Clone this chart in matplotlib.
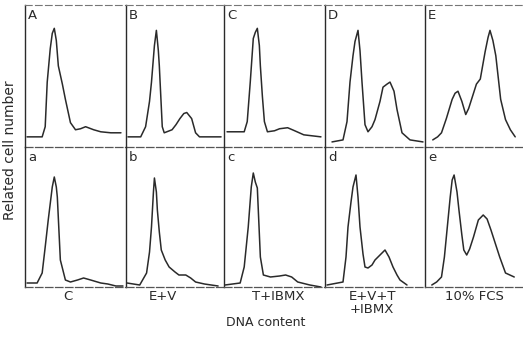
import numpy as np
import matplotlib.pyplot as plt

# DNA histograms, channel (0-100) vs relative cell number
# top row: A-E, bottom row: a-e
A_x = [2, 17, 20, 22, 25, 27, 29, 31, 33, 37, 40, 45, 50, 55, 60, 68, 75, 85, 95]
A_y = [10, 10, 20, 64, 97, 112, 117, 105, 80, 62, 47, 24, 17, 18, 20, 17, 15, 14, 14]
B_x = [2, 15, 20, 24, 26, 29, 31, 33, 34, 37, 39, 47, 51, 55, 59, 62, 67, 71, 75, 97]
B_y = [10, 10, 20, 45, 64, 100, 115, 95, 80, 20, 14, 17, 22, 28, 33, 34, 28, 14, 10, 10]
C_x = [3, 20, 23, 26, 29, 31, 33, 35, 36, 38, 40, 43, 50, 55, 63, 70, 79, 96]
C_y = [15, 15, 25, 64, 107, 113, 117, 100, 80, 50, 25, 15, 16, 18, 19, 16, 12, 10]
D_x = [7, 18, 22, 25, 28, 30, 33, 35, 37, 40, 43, 47, 50, 55, 58, 62, 65, 69, 72, 77, 85, 98]
D_y = [5, 7, 25, 64, 90, 104, 115, 95, 64, 22, 15, 20, 27, 45, 59, 62, 64, 55, 37, 14, 7, 5]
E_x = [8, 13, 17, 22, 28, 31, 34, 38, 42, 45, 48, 53, 57, 62, 65, 67, 70, 73, 78, 83, 88, 93]
E_y = [7, 10, 14, 28, 47, 53, 55, 45, 32, 38, 47, 62, 67, 94, 108, 115, 105, 90, 47, 27, 17, 10]

a_x = [2, 12, 17, 20, 23, 27, 29, 31, 32, 35, 40, 45, 52, 58, 65, 75, 82, 90, 97]
a_y = [4, 4, 14, 40, 67, 100, 110, 100, 90, 27, 7, 5, 7, 9, 7, 4, 3, 1, 1]
b_x = [1, 14, 21, 24, 26, 28, 29, 31, 32, 34, 36, 40, 44, 50, 54, 58, 61, 66, 71, 80, 94]
b_y = [4, 2, 14, 35, 60, 95, 109, 95, 77, 55, 37, 27, 20, 15, 12, 12, 12, 9, 5, 3, 1]
c_x = [1, 16, 20, 24, 27, 29, 31, 33, 36, 39, 46, 55, 61, 67, 73, 85, 96]
c_y = [2, 4, 20, 60, 100, 114, 105, 99, 30, 12, 10, 11, 12, 10, 5, 2, 0]
d_x = [2, 18, 21, 23, 26, 28, 31, 33, 35, 38, 40, 43, 47, 50, 55, 60, 64, 68, 72, 75, 82]
d_y = [2, 5, 30, 60, 85, 100, 112, 90, 60, 33, 20, 19, 22, 27, 32, 37, 30, 20, 12, 7, 2]
e_x = [7, 12, 17, 20, 23, 26, 28, 30, 33, 35, 38, 40, 43, 46, 50, 55, 60, 64, 68, 73, 77, 83, 92]
e_y = [2, 5, 10, 30, 60, 90, 107, 112, 95, 77, 52, 37, 32, 38, 50, 67, 72, 68, 57, 42, 30, 14, 10]

top_curves = [(A_x, A_y), (B_x, B_y), (C_x, C_y), (D_x, D_y), (E_x, E_y)]
bottom_curves = [(a_x, a_y), (b_x, b_y), (c_x, c_y), (d_x, d_y), (e_x, e_y)]
top_letters = ["A", "B", "C", "D", "E"]
bottom_letters = ["a", "b", "c", "d", "e"]
treatments = ["C", "E+V", "T+IBMX", "E+V+T\n+IBMX", "10% FCS"]
label_x = [68, 163, 278, 372, 474]  # label centres (px)

W, H = 523, 340
fig = plt.figure(figsize=(W / 100, H / 100), dpi=100)

# panel edges in pixels
col_edges = [25, 126, 224, 325, 425, 522]
row_edges = [5, 147, 287]

ink = "#2a2a2a"

for r, (curves, letters) in enumerate([(top_curves, top_letters),
                                       (bottom_curves, bottom_letters)]):
    for c in range(5):
        x0, x1 = col_edges[c], col_edges[c + 1]
        y0, y1 = row_edges[r], row_edges[r + 1]
        ax = fig.add_axes([x0 / W, 1 - y1 / H, (x1 - x0) / W, (y1 - y0) / H])
        xs, ys = curves[c]
        ax.plot(xs, ys, color=ink, lw=1.1, solid_capstyle="round")
        ax.set_xlim(0, 100)
        ax.set_ylim(0, 140)
        ax.set_xticks([])
        ax.set_yticks([])
        ax.patch.set_alpha(0)
        for side in ["top", "right"]:
            ax.spines[side].set_visible(False)
        ax.spines["left"].set_color(ink)
        ax.spines["left"].set_linewidth(1.0)
        ax.spines["bottom"].set_color("#555555")
        ax.spines["bottom"].set_linewidth(0.9)
        ax.spines["bottom"].set_linestyle((0, (6, 2)))
        if r == 0:
            ax.spines["top"].set_visible(True)
            ax.spines["top"].set_color("#777777")
            ax.spines["top"].set_linewidth(0.8)
            ax.spines["top"].set_linestyle((0, (6, 3)))
        ax.text(3, 136, letters[c], fontsize=9.5, va="top", ha="left", color=ink)

# treatment labels under the bottom row
for c, lab in enumerate(treatments):
    fig.text(label_x[c] / W, 1 - 290 / H, lab, fontsize=9.5, ha="center",
             va="top", color=ink, linespacing=1.0)

fig.text(266 / W, 1 - 323 / H, "DNA content", fontsize=9, ha="center",
         va="center", color=ink)
fig.text(10 / W, 1 - 150 / H, "Related cell number", fontsize=10,
         rotation=90, ha="center", va="center", color=ink)

fig.savefig("out.png", dpi=100)
